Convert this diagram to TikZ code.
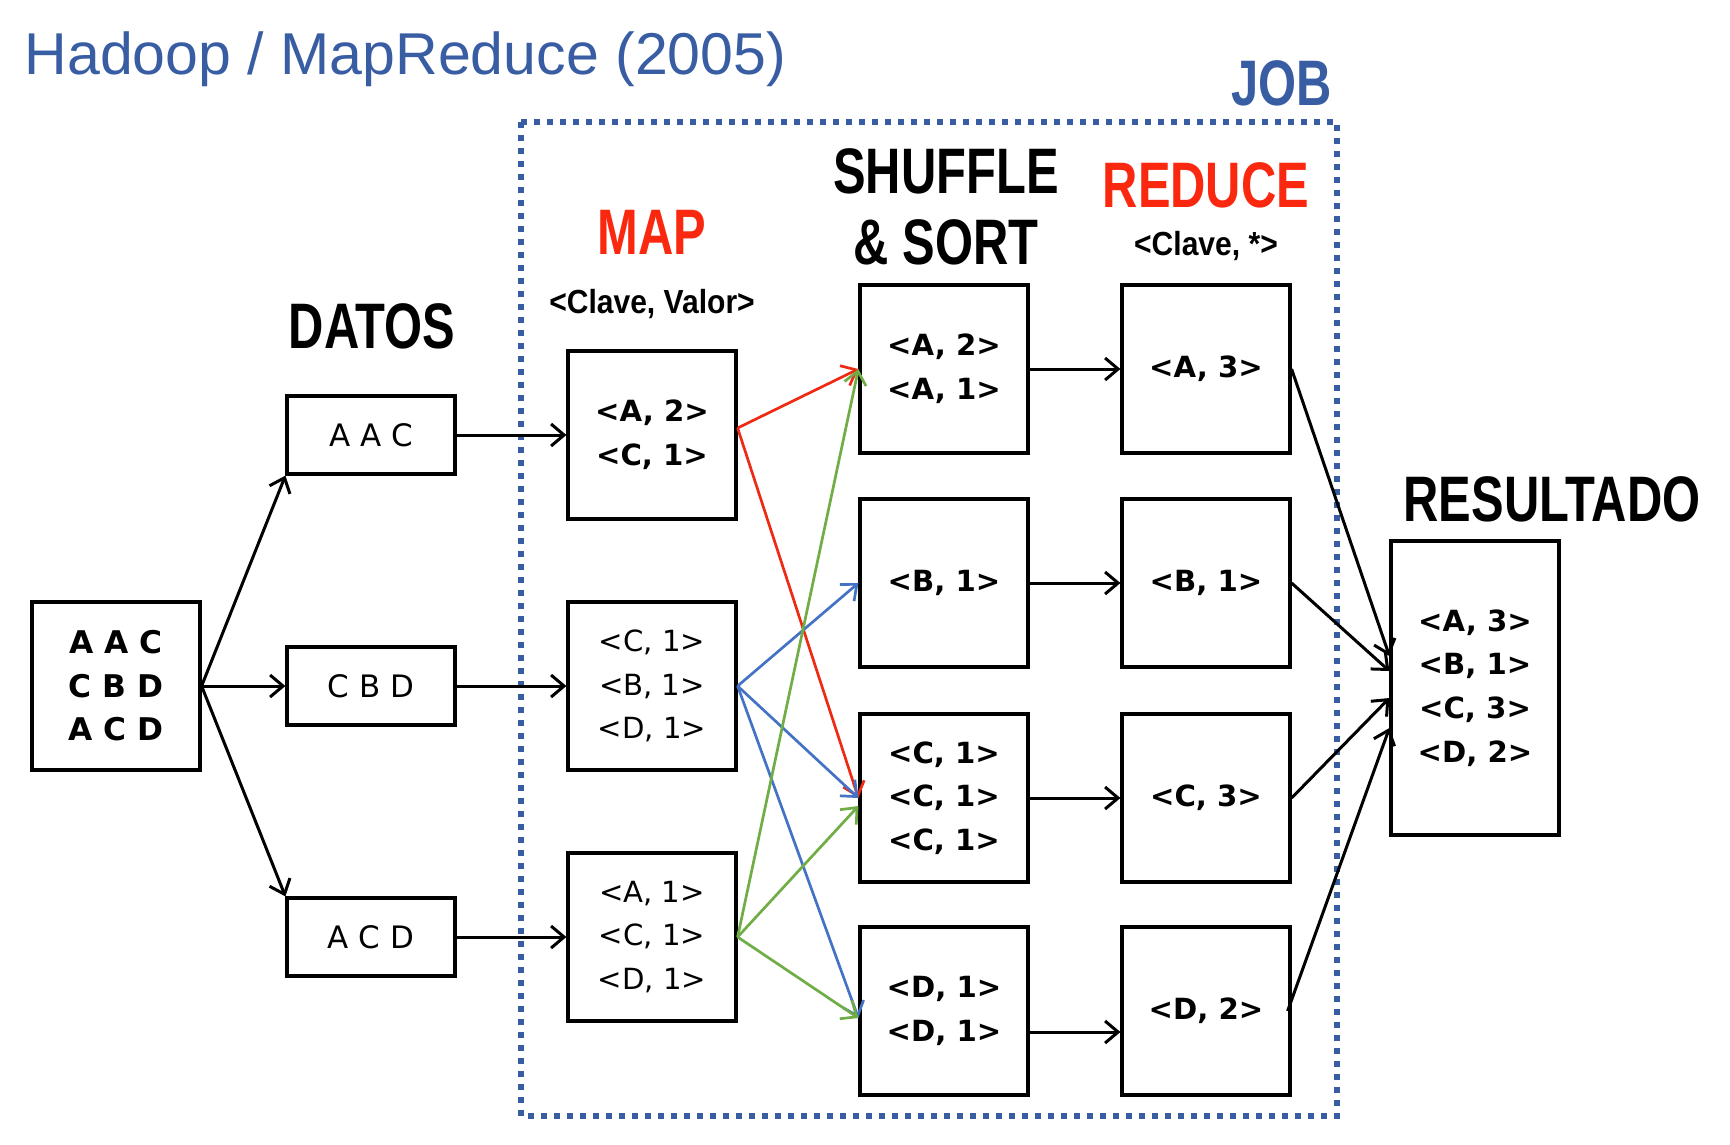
\documentclass[tikz,border=0pt]{standalone}
\usepackage{fontspec}
\setmainfont{DejaVu Sans}
\newfontfamily\headfont[FakeStretch=0.76]{Liberation Sans}
\newfontfamily\keyfont[FakeStretch=0.9]{Liberation Sans}
\newfontfamily\titlefont{Liberation Sans}
\usetikzlibrary{arrows.meta,positioning}
\definecolor{jobblue}{RGB}{56,93,163}
\definecolor{phasered}{RGB}{250,40,15}
\definecolor{arrred}{RGB}{238,42,20}
\definecolor{arrblue}{RGB}{68,114,196}
\definecolor{arrgreen}{RGB}{112,173,71}
\tikzset{
	kvbox/.style={rectangle,draw,line width=0.32mm,minimum width=16.8mm,minimum height=16.8mm,inner sep=0pt,align=center,font=\fontsize{8.3}{12.4}\selectfont\bfseries},
	kvplain/.style={kvbox,font=\fontsize{8.3}{12.4}\selectfont},
	databox/.style={kvbox,minimum height=7.8mm,font=\fontsize{8.8}{12.4}\selectfont},
	phase/.style={font=\headfont\bfseries\fontsize{18.3}{20.2}\selectfont,align=center,inner sep=0pt},
	keylabel/.style={font=\keyfont\bfseries\fontsize{9.5}{11}\selectfont,inner sep=0pt},
	titletext/.style={font=\titlefont\fontsize{16.8}{20}\selectfont,text=jobblue,inner sep=0pt},
	jobframe/.style={draw=jobblue,line width=0.55mm,dash pattern=on 0.6mm off 0.7mm},
	diredge/.style={-{Straight Barb[length=1.3mm,width=2.2mm]},line width=0.3mm},
	coledge/.style={-{Straight Barb[length=1.3mm,width=2.2mm]},line width=0.27mm}
}
\begin{document}
\begin{tikzpicture}[x=0.1mm,y=-0.1mm]
	\useasboundingbox (0,0) rectangle (1730,1144);
	%%%% title and job frame
	\node[titletext,anchor=base west] (title) at (24,74) {Hadoop / MapReduce (2005)};
	\draw[jobframe] (521,122) rectangle (1337,1116);
	\node[phase,text=jobblue,anchor=base] (job) at (1282,105) {JOB};
	
	%%%% headings
	\node[phase,anchor=base] (hdatos) at (372,348) {DATOS};
	\node[phase,text=phasered,anchor=base] (hmap) at (652,254) {MAP};
	\node[keylabel,anchor=base] (kmap) at (652,313) {<Clave, Valor>};
	\node[phase] (hshuffle) at (946,207) {SHUFFLE\\\& SORT};
	\node[phase,text=phasered,anchor=base] (hreduce) at (1206,207) {REDUCE};
	\node[keylabel,anchor=base] (kreduce) at (1206,255) {<Clave, *>};
	\node[phase,anchor=base] (hres) at (1552,521) {RESULTADO};
	
	%%%% input and data
	\node[kvbox,font=\fontsize{8.9}{12.4}\selectfont\bfseries] (in) at (116,686) {A A C\\C B D\\A C D};
	\node[databox] (d1) at (371,435) {A A C};
	\node[databox] (d2) at (371,686) {C B D};
	\node[databox] (d3) at (371,937) {A C D};
	
	%%%% map
	\node[kvbox] (m1) at (652,435) {<A, 2>\\<C, 1>};
	\node[kvplain] (m2) at (652,686) {<C, 1>\\<B, 1>\\<D, 1>};
	\node[kvplain] (m3) at (652,937) {<A, 1>\\<C, 1>\\<D, 1>};
	
	%%%% shuffle & sort
	\node[kvbox] (s1) at (944,369) {<A, 2>\\<A, 1>};
	\node[kvbox] (s2) at (944,583) {<B, 1>};
	\node[kvbox] (s3) at (944,798) {<C, 1>\\<C, 1>\\<C, 1>};
	\node[kvbox] (s4) at (944,1011) {<D, 1>\\<D, 1>};
	
	%%%% reduce
	\node[kvbox] (r1) at (1206,369) {<A, 3>};
	\node[kvbox] (r2) at (1206,583) {<B, 1>};
	\node[kvbox] (r3) at (1206,798) {<C, 3>};
	\node[kvbox] (r4) at (1206,1011) {<D, 2>};
	
	%%%% result
	\node[kvbox,minimum height=29.4mm] (res) at (1475,688) {<A, 3>\\<B, 1>\\<C, 3>\\<D, 2>};
	
	\draw[diredge] (in.east) -- (d1.south west);
	\draw[diredge] (in.east) -- (d2.west);
	\draw[diredge] (in.east) -- (d3.north west);
	\draw[diredge] (d1) -- (m1);
	\draw[diredge] (d2) -- (m2);
	\draw[diredge] (d3) -- (m3);
	
	\draw [arrred]
	([yshift=0.7mm]m1.east) edge[coledge] (s1.west)
	([yshift=0.7mm]m1.east) edge[coledge] (s3.west);
	
	\draw [arrblue]
	(m2.east) edge[coledge] (s2.west)
	(m2.east) edge[coledge] (s3.west)
	(m2.east) edge[coledge] ([yshift=-0.7mm]s4.west);
	
	\draw [arrgreen]
	(m3.east) edge[coledge] (s1.west)
	(m3.east) edge[coledge] ([yshift=-0.8mm]s3.west)
	(m3.east) edge[coledge] ([yshift=-0.7mm]s4.west);
	
	\draw[diredge] (s1) -- (r1);
	\draw[diredge] (s2) -- (r2);
	\draw[diredge] (s3) -- (r3);
	\draw[diredge] ([yshift=-2.1mm]s4.east) -- ([yshift=-2.1mm]r4.west);
	
	\draw[diredge] (r1.east) -- ([yshift=3.2mm]res.west);
	\draw[diredge] (r2.east) -- ([yshift=1.7mm]res.west);
	\draw[diredge] (r3.east) -- ([yshift=-1mm]res.west);
	\draw[diredge] ([xshift=-0.4mm]r4.east) -- ([yshift=-4mm]res.west);
\end{tikzpicture}
\end{document}
